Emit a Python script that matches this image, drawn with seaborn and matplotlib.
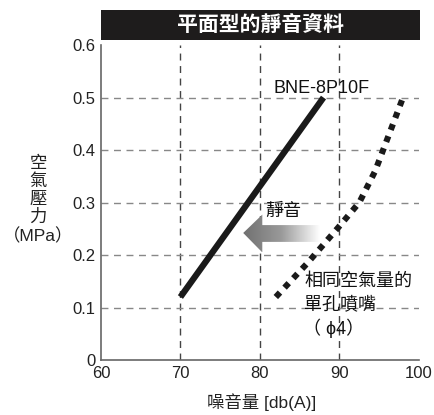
import numpy as np
import pandas as pd
import matplotlib.pyplot as plt
import seaborn as sns
from matplotlib.patches import Polygon, Rectangle

# ----------------------------------------------------------------------
# Data
# ----------------------------------------------------------------------
bne_noise = [70, 88]
bne_pressure = [0.12, 0.5]

nozzle_noise = [82, 86, 90, 92.5, 94.5, 96, 98]
nozzle_pressure = [0.12, 0.185, 0.255, 0.30, 0.36, 0.42, 0.5]

x_ticks = [60, 70, 80, 90, 100]
y_ticks = [0, 0.1, 0.2, 0.3, 0.4, 0.5, 0.6]
y_tick_labels = ["0", "0.1", "0.2", "0.3", "0.4", "0.5", "0.6"]

df_bne = pd.DataFrame({"noise": bne_noise, "pressure": bne_pressure})
df_nozzle = pd.DataFrame({"noise": nozzle_noise, "pressure": nozzle_pressure})

# ----------------------------------------------------------------------
# Style
# ----------------------------------------------------------------------
sns.set_style("white")
plt.rcParams["font.family"] = ["Liberation Sans", "Noto Sans CJK TC", "DejaVu Sans"]

fig = plt.figure(figsize=(4.35, 4.15), dpi=100)
ax = fig.add_axes([0.232, 0.1325, 0.731, 0.759])

# lines
sns.lineplot(data=df_bne, x="noise", y="pressure", ax=ax, color="#1a1a1a",
             linewidth=4.5, solid_capstyle="butt")
sns.lineplot(data=df_nozzle, x="noise", y="pressure", ax=ax, color="#1a1a1a",
             linewidth=4.4, linestyle=(0, (1, 1.1)), dash_capstyle="butt")

ax.set_xlim(60, 100)
ax.set_ylim(0, 0.6)
ax.set_xticks(x_ticks)
ax.set_yticks(y_ticks)
ax.set_yticklabels(y_tick_labels)
ax.tick_params(axis="both", length=0, labelsize=12, colors="#222222", pad=4)

# grid
for xv in x_ticks[1:-1]:
    ax.axvline(xv, color="#444444", linestyle=(0, (5, 4)), linewidth=1.0, zorder=0)
for yv in y_ticks[1:-1]:
    ax.axhline(yv, color="#888888", linestyle=(0, (5, 4)), linewidth=1.0, zorder=0)

for side in ["top", "right"]:
    ax.spines[side].set_visible(False)
for side in ["left", "bottom"]:
    ax.spines[side].set_color("#666666")
    ax.spines[side].set_linewidth(1.2)

ax.set_xlabel("")
ax.set_ylabel("")

# gradient arrow (pointing left)
arrow_pts = [(77.9, 0.242), (80.3, 0.277), (80.3, 0.257), (87.5, 0.257),
             (87.5, 0.225), (80.3, 0.225), (80.3, 0.205)]
arrow = Polygon(arrow_pts, closed=True, facecolor="none", edgecolor="none")
ax.add_patch(arrow)
grad = np.linspace(0, 1, 256).reshape(1, -1)
img = ax.imshow(grad, cmap=sns.blend_palette(["#707070", "#9a9a9a", "#ffffff"], as_cmap=True),
                extent=[77.9, 87.5, 0.205, 0.277], aspect="auto", zorder=1,
                interpolation="bilinear")
img.set_clip_path(arrow)
ax.set_xlim(60, 100)
ax.set_ylim(0, 0.6)

# annotations
ax.text(81.7, 0.518, "BNE-8P10F", fontsize=13, ha="left", va="center", color="#111111")
ax.text(80.6, 0.284, "靜音", fontsize=13, ha="left", va="center", color="#111111")
ax.text(85.6, 0.149, "相同空氣量的", fontsize=13, ha="left", va="center", color="#111111")
ax.text(85.6, 0.105, "單孔噴嘴", fontsize=13, ha="left", va="center", color="#111111")
ax.text(85.4, 0.061, "（ ϕ4）", fontsize=13, ha="left", va="center", color="#111111")

# title bar
fig.patches.append(Rectangle((101 / 435, 1 - 40 / 415), 319 / 435, 30 / 415,
                             transform=fig.transFigure, facecolor="#1e1c1c",
                             edgecolor="none"))
fig.text(260 / 435, 1 - 25 / 415, "平面型的靜音資料", fontsize=15, fontweight="bold",
         color="white", ha="center", va="center")

# axis labels
fig.text(38 / 435, 1 - 200 / 415, "空\n氣\n壓\n力\n（MPa）", fontsize=12.5, ha="center",
         va="center", multialignment="center", linespacing=1.2, color="#222222")
fig.text(262 / 435, 1 - 402 / 415, "噪音量 [db(A)]", fontsize=12.5, ha="center",
         va="center", color="#222222")

fig.savefig("out.png", dpi=100)
